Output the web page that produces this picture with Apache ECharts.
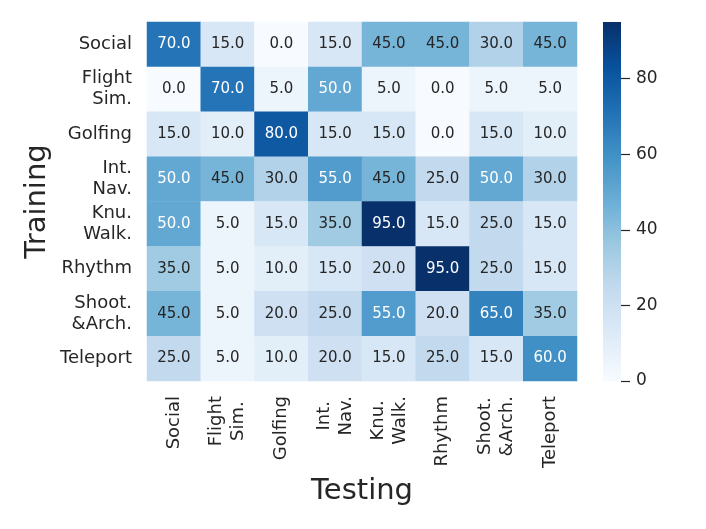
<!DOCTYPE html>
<html>
<head>
<meta charset="utf-8">
<script src="https://cdn.jsdelivr.net/npm/echarts@6/dist/echarts.min.js"></script>
<style>
html,body{margin:0;padding:0;background:#fff;}
#chart{width:706px;height:529px;}
</style>
</head>
<body>
<div id="chart"></div>
<script>
const testingLabels = ['Social', 'Flight\nSim.', 'Golfing', 'Int.\nNav.', 'Knu.\nWalk.', 'Rhythm', 'Shoot.\n&Arch.', 'Teleport'];
const trainingLabels = ['Social', 'Flight\nSim.', 'Golfing', 'Int.\nNav.', 'Knu.\nWalk.', 'Rhythm', 'Shoot.\n&Arch.', 'Teleport'];
const rowSocial   = [70, 15, 0, 15, 45, 45, 30, 45];
const rowFlight   = [0, 70, 5, 50, 5, 0, 5, 5];
const rowGolfing  = [15, 10, 80, 15, 15, 0, 15, 10];
const rowIntNav   = [50, 45, 30, 55, 45, 25, 50, 30];
const rowKnuWalk  = [50, 5, 15, 35, 95, 15, 25, 15];
const rowRhythm   = [35, 5, 10, 15, 20, 95, 25, 15];
const rowShoot    = [45, 5, 20, 25, 55, 20, 65, 35];
const rowTeleport = [25, 5, 10, 20, 15, 25, 15, 60];
const colorbarTicks = [0, 20, 40, 60, 80];
const valueMin = 0;
const valueMax = 95;

const rows = [rowSocial, rowFlight, rowGolfing, rowIntNav, rowKnuWalk, rowRhythm, rowShoot, rowTeleport];
const blues = ['#f7fbff', '#deebf7', '#c6dbef', '#9ecae1', '#6baed6', '#4292c6', '#2171b5', '#08519c', '#08306b'];
const FONT = 'DejaVu Sans';
const TXT = '#262626';

const data = [];
rows.forEach((row, yi) => {
  row.forEach((v, xi) => {
    data.push({
      value: [xi, yi, v],
      label: { color: v >= 50 ? '#ffffff' : TXT }
    });
  });
});

const chart = echarts.init(document.getElementById('chart'), null, { renderer: 'canvas' });
chart.setOption({
  backgroundColor: '#ffffff',
  animation: false,
  textStyle: { fontFamily: FONT },
  grid: [
    { left: 147, top: 22, width: 430, height: 359 },
    { left: 603, top: 22, width: 18, height: 359 }
  ],
  xAxis: [
    {
      type: 'category', gridIndex: 0, data: testingLabels,
      axisLine: { show: false }, axisTick: { show: false },
      splitArea: { show: false },
      name: 'Testing', nameLocation: 'middle', nameGap: 96, nameMoveOverlap: false,
      nameTextStyle: { fontSize: 29, color: TXT, fontFamily: FONT },
      axisLabel: {
        rotate: 90, margin: 15, interval: 0,
        formatter: function (v) { return v.split('\n').map(s => '{c|' + s + '}').join('\n'); },
        rich: { c: { align: 'center', fontSize: 18, lineHeight: 22, color: TXT, fontFamily: FONT } }
      }
    },
    {
      type: 'category', gridIndex: 1, data: ['cb'], show: false
    }
  ],
  yAxis: [
    {
      type: 'category', gridIndex: 0, data: trainingLabels, inverse: true,
      axisLine: { show: false }, axisTick: { show: false },
      splitArea: { show: false },
      name: 'Training', nameLocation: 'middle', nameGap: 95, nameRotate: 90, nameMoveOverlap: false,
      nameTextStyle: { fontSize: 29, color: TXT, fontFamily: FONT },
      axisLabel: { margin: 15, interval: 0, fontSize: 18, lineHeight: 21, color: TXT, fontFamily: FONT, align: 'right' }
    },
    {
      type: 'value', gridIndex: 1, position: 'right', min: valueMin, max: valueMax,
      axisLine: { show: false },
      splitLine: { show: false },
      axisTick: { show: true, length: 9, lineStyle: { color: TXT, width: 1.2 }, customValues: colorbarTicks },
      axisLabel: { margin: 15, fontSize: 17, color: TXT, fontFamily: FONT, customValues: colorbarTicks }
    }
  ],
  visualMap: {
    show: false, type: 'continuous', seriesIndex: 0,
    min: valueMin, max: valueMax, dimension: 2,
    inRange: { color: blues }
  },
  series: [
    {
      type: 'heatmap', xAxisIndex: 0, yAxisIndex: 0, data: data,
      label: { show: true, fontSize: 15, fontFamily: FONT, formatter: p => p.value[2].toFixed(1) },
      itemStyle: { borderWidth: 0 },
      emphasis: { disabled: true }
    },
    {
      type: 'bar', xAxisIndex: 1, yAxisIndex: 1, data: [valueMax], barWidth: '100%',
      itemStyle: {
        color: new echarts.graphic.LinearGradient(0, 1, 0, 0,
          blues.map((c, i) => ({ offset: i / (blues.length - 1), color: c })))
      },
      emphasis: { disabled: true }
    }
  ]
});
</script>
</body>
</html>
